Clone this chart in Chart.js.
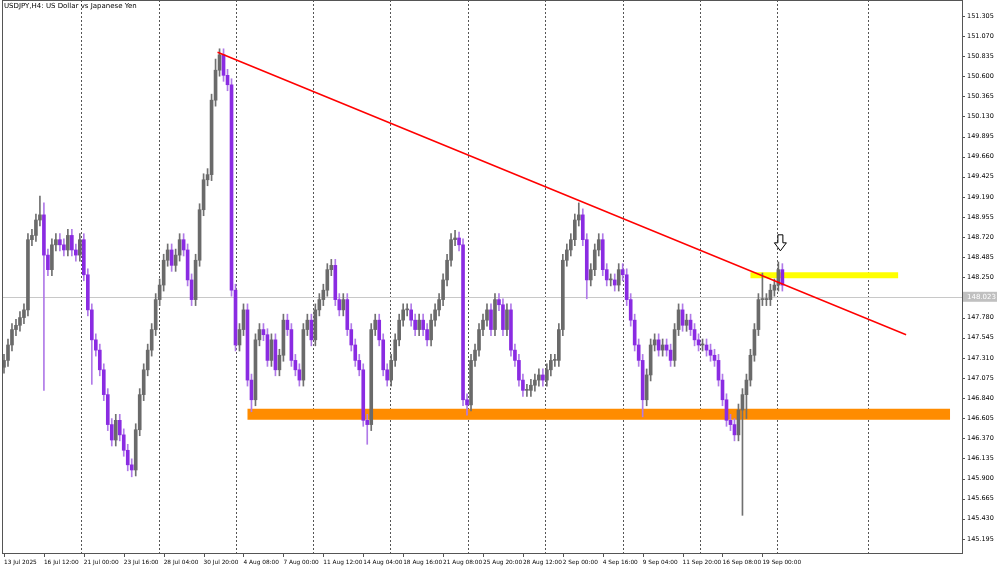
<!DOCTYPE html>
<html><head><meta charset="utf-8">
<script src="https://cdn.jsdelivr.net/npm/chart.js@4.4.1/dist/chart.umd.min.js"></script>
<style>html,body{margin:0;padding:0;background:#fff}#w{width:1000px;height:572px;position:relative}</style>
</head><body><div id="w"><canvas id="c"></canvas></div>
<script>
const title = "USDJPY,H4: US Dollar vs Japanese Yen";
const firstOpen = 147.20;
const closes = [147.28,147.46,147.64,147.69,147.78,147.87,148.69,148.74,148.92,148.98,
148.51,148.34,148.63,148.69,148.63,148.57,148.74,148.57,148.51,148.69,
148.28,147.87,147.52,147.40,147.17,146.88,146.53,146.35,146.58,146.41,
146.23,146.06,146.00,146.47,146.88,147.17,147.40,147.64,147.99,148.16,
148.45,148.57,148.39,148.51,148.69,148.57,148.22,147.99,148.45,149.04,
149.39,149.45,150.32,150.67,150.85,150.61,150.50,148.10,147.46,147.64,
147.87,147.05,146.82,147.52,147.64,147.58,147.28,147.52,147.17,147.34,
147.75,147.64,147.28,147.17,147.05,147.64,147.75,147.52,147.87,147.99,
148.10,148.34,148.39,147.99,147.87,147.99,147.64,147.46,147.28,147.17,
146.58,146.53,147.64,147.75,147.52,147.17,147.05,147.28,147.52,147.75,
147.87,147.87,147.75,147.64,147.75,147.64,147.52,147.75,147.87,147.99,
148.22,148.45,148.69,148.71,148.63,146.82,146.76,147.28,147.40,147.64,
147.75,147.87,147.64,147.99,147.93,147.64,147.87,147.40,147.28,147.05,
146.93,146.93,146.99,147.05,147.11,147.05,147.17,147.28,147.28,147.64,
148.45,148.57,148.69,148.92,148.98,148.69,148.22,148.34,148.57,148.69,
148.34,148.22,148.22,148.16,148.34,148.28,147.99,147.75,147.46,147.28,
146.82,147.11,147.46,147.52,147.40,147.46,147.40,147.28,147.64,147.87,
147.69,147.75,147.64,147.52,147.46,147.46,147.40,147.34,147.28,147.05,
146.82,146.58,146.53,146.41,146.70,146.88,147.05,147.34,147.64,147.99,
147.99,147.99,148.10,148.16,148.34,148.16];
const defaultWick = 0.07;
const highOverrides = {9:149.20,10:149.12,54:150.92,144:149.12,190:148.30,194:148.43,113:148.80,53:150.80};
const lowOverrides = {10:146.93,22:147.00,32:145.92,62:146.68,91:146.30,116:146.64,185:145.47,146:148.00,160:146.62,186:146.60};
const xTickLabels = ["13 Jul 2025","16 Jul 12:00","21 Jul 00:00","23 Jul 16:00","28 Jul 04:00","30 Jul 20:00","4 Aug 08:00","7 Aug 00:00","11 Aug 12:00","14 Aug 04:00","18 Aug 16:00","21 Aug 08:00","25 Aug 20:00","28 Aug 12:00","2 Sep 00:00","4 Sep 16:00","9 Sep 04:00","11 Sep 20:00","16 Sep 08:00","19 Sep 00:00"];
const yTickValues = [151.305,151.070,150.835,150.600,150.365,150.130,149.895,149.660,149.425,149.190,148.955,148.720,148.485,148.250,147.780,147.545,147.310,147.075,146.840,146.605,146.370,146.135,145.900,145.665,145.430,145.195];
const currentPrice = 148.023;
const weekMarks = [19.25,38.75,58,77.5,96.75,116.25,135.5,155,174.25,193.75,216.5];
const trendLine = [{x:53.5,y:150.88},{x:226,y:147.58}];
const yellowZone = [{x:187,y:148.275},{x:224,y:148.275}];
const orangeZone = [{x:61,y:146.65},{x:237,y:146.65}];
const arrowAt = {x:194.5,y:148.56};

const bodies=[], wicks=[], colors=[], wcolors=[];
let prev=firstOpen;
closes.forEach((c,i)=>{
  const o=prev; prev=c;
  const hi = highOverrides[i]!==undefined?highOverrides[i]:Math.max(o,c)+defaultWick;
  const lo = lowOverrides[i]!==undefined?lowOverrides[i]:Math.min(o,c)-defaultWick;
  bodies.push({x:i,y:[o,c]}); wicks.push({x:i,y:[lo,hi]});
  const up=c>=o; colors.push(up?'#6a6a6a':'#8a2be2'); wcolors.push(up?'#707070':'#b07ae8');
});

const overlay={id:'ov',
 beforeDatasetsDraw(ch){const {ctx,chartArea:a,scales:{x,y}}=ch;ctx.save();
  ctx.strokeStyle='#555';ctx.lineWidth=1;ctx.setLineDash([2,2]);
  weekMarks.forEach(m=>{const px=Math.round(x.getPixelForValue(m))+0.5;ctx.beginPath();ctx.moveTo(px,a.top);ctx.lineTo(px,a.bottom);ctx.stroke();});
  ctx.setLineDash([]);ctx.strokeStyle='#c8c8c8';const py=Math.round(y.getPixelForValue(currentPrice))+0.5;
  ctx.beginPath();ctx.moveTo(a.left,py);ctx.lineTo(a.right,py);ctx.stroke();ctx.restore();},
 afterDraw(ch){const {ctx,chartArea:a,scales:{x,y}}=ch;ctx.save();
  ctx.font='7px "DejaVu Sans"';ctx.fillStyle='#000';ctx.textBaseline='top';ctx.fillText(title,4,3);
  const py=y.getPixelForValue(currentPrice);ctx.fillStyle='#c0c0c0';ctx.fillRect(a.right+1,py-5,34,10);
  ctx.fillStyle='#fff';ctx.textBaseline='middle';ctx.fillText(currentPrice.toFixed(3),a.right+5,py);
  ctx.strokeStyle='#555';ctx.lineWidth=1;ctx.strokeRect(a.left+0.5,a.top+0.5,a.right-a.left,a.bottom-a.top);
  ctx.beginPath();xTickLabels.forEach((l,i)=>{const px=Math.round(x.getPixelForValue(i*10))+0.5;ctx.moveTo(px,a.bottom);ctx.lineTo(px,a.bottom+4);});
  yTickValues.forEach(v=>{const p=Math.round(y.getPixelForValue(v))+0.5;ctx.moveTo(a.right,p);ctx.lineTo(a.right+3,p);});ctx.stroke();
  const ax=x.getPixelForValue(arrowAt.x),ay=y.getPixelForValue(arrowAt.y);
  ctx.fillStyle='#fff';ctx.strokeStyle='#000';ctx.beginPath();
  ctx.moveTo(ax-2.5,ay-16);ctx.lineTo(ax+2.5,ay-16);ctx.lineTo(ax+2.5,ay-8);ctx.lineTo(ax+6,ay-8);ctx.lineTo(ax,ay);ctx.lineTo(ax-6,ay-8);ctx.lineTo(ax-2.5,ay-8);ctx.closePath();ctx.fill();ctx.stroke();
  ctx.restore();}};

new Chart(document.getElementById('c'),{
 data:{datasets:[
  {type:'line',data:orangeZone,borderColor:'#ff8c00',borderWidth:11,borderCapStyle:'butt',pointRadius:0,order:5},
  {type:'line',data:yellowZone,borderColor:'#ffff00',borderWidth:6,borderCapStyle:'butt',pointRadius:0,order:4},
  {type:'bar',data:wicks,backgroundColor:wcolors,barThickness:1,grouped:false,order:3},
  {type:'bar',data:bodies,backgroundColor:colors,barThickness:3,grouped:false,order:2,minBarLength:1},
  {type:'line',data:trendLine,borderColor:'#ff0000',borderWidth:1.5,pointRadius:0,order:1}
 ]},
 options:{responsive:true,maintainAspectRatio:false,animation:false,
  layout:{padding:{left:2,top:0,right:0,bottom:0}},
  plugins:{legend:{display:false},tooltip:{enabled:false}},
  scales:{
   x:{type:'linear',offset:false,min:-0.5,max:240,grid:{display:false,drawTicks:false,offset:false},border:{display:false},
    afterBuildTicks(s){s.ticks=xTickLabels.map((l,i)=>({value:i*10}));},
    afterFit(s){s.height=19;s.paddingLeft=0;s.paddingRight=0;},
    ticks:{autoSkip:false,maxRotation:0,align:'start',padding:6,color:'#000',font:{size:5.8,family:'DejaVu Sans'},callback:(v)=>xTickLabels[Math.round(v/10)]}},
   y:{position:'right',min:145.03,max:151.49,grid:{display:false,drawTicks:false},border:{display:false},
    afterBuildTicks(s){s.ticks=yTickValues.map(v=>({value:v}));},
    afterFit(s){s.width=38;s.paddingTop=0;s.paddingBottom=0;},
    ticks:{autoSkip:false,padding:5,color:'#000',font:{size:6.5,family:'DejaVu Sans'},callback:v=>v.toFixed(3)}}
  }},
 plugins:[overlay]});
</script></body></html>
